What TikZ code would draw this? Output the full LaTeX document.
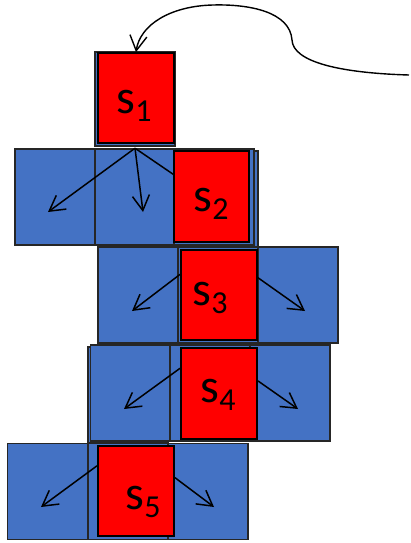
\documentclass[tikz,border=0pt]{standalone}
\usepackage{fontspec}
\setmainfont{Carlito}
\usetikzlibrary{arrows.meta}
\definecolor{cellblue}{HTML}{4472C4}
\tikzset{
    >={Straight Barb[length=15pt,width=17pt]},
    every edge/.style={draw,->,line width=1.5pt}
}
\newcommand{\slab}[1]{{\fontsize{48}{48}\selectfont s}\raisebox{-8pt}{\fontsize{32}{32}\selectfont #1}}

\begin{document}
\begin{tikzpicture}[x=1pt,y=-1pt,
                    cell/.style={draw=black!85,line width=1.6pt,fill=cellblue,
                                 minimum width=80pt,minimum height=96pt,inner sep=0pt},
                    hot/.style={draw=black,line width=1.8pt,fill=red,
                                minimum width=76pt,minimum height=90pt,inner sep=0pt},
                    lab/.style={inner sep=0pt}]
\useasboundingbox (0,0) rectangle (411,543);

% Cells
\node[cell,minimum height=94pt] (b1) at (135,99) {};
\node[cell] (b2l) at (55,197) {};
\node[cell] (b2m) at (135,197) {};
\node[cell] (b2rb) at (218,199) {};
\node[cell] (b2r) at (214,197) {};
\node[cell] (b3l) at (138,295) {};
\node[cell] (b3m) at (218,295) {};
\node[cell] (b3r) at (298,295) {};
\node[cell] (b4lb) at (128,395) {};
\node[cell] (b4l) at (130.5,393) {};
\node[cell] (b4m) at (210,393) {};
\node[cell] (b4r) at (290,393) {};
\node[cell] (b5l) at (47.5,491.5) {};
\node[cell] (b5m) at (128,491.5) {};
\node[cell] (b5r) at (208,491.5) {};

% Ends
\coordinate (e2a) at (48,212);
\coordinate (e2b) at (143,212);
\coordinate (e2c) at (205,196);
\coordinate (e3a) at (132,311);
\coordinate (e3b) at (305,311);
\coordinate (e4a) at (124,409);
\coordinate (e4b) at (298,409);
\coordinate (e5a) at (41,507);
\coordinate (e5b) at (214,507);
\coordinate (c0) at (409,75);

% Moves
\path (b2m.north) edge (e2a);
\path (b2m.north) edge (e2b);
\path (b2m.north) edge (e2c);

% States
\node[hot] (s1) at (136,98) {};
\node[hot,minimum width=75pt,minimum height=91pt] (s2) at (211.5,196.5) {};
\node[hot] (s3) at (219,295) {};
\node[hot,minimum height=91pt] (s4) at (219,393.5) {};
\node[hot] (s5) at (136,491) {};

\path (s3.152) edge (e3a);
\path (s3.24) edge (e3b);
\path (s4.147) edge (e4a);
\path (s4.18) edge (e4b);
\path (s5.147) edge (e5a);
\path (s5.19) edge (e5b);

% Labels
\node[lab] (l1) at (134,106) {\slab{1}};
\node[lab] (l2) at (211,204) {\slab{2}};
\node[lab] (l3) at (210,298) {\slab{3}};
\node[lab] (l4) at (218,395) {\slab{4}};
\node[lab] (l5) at (143,502) {\slab{5}};

% Back to start
\draw[->,line width=1.4pt] (c0) .. controls (340,73) and (293,62) .. (292,40)
      .. controls (290,12) and (250,4) .. (213,5)
      .. controls (170,6) and (140,25) .. (s1.north);

\end{tikzpicture}
\end{document}
